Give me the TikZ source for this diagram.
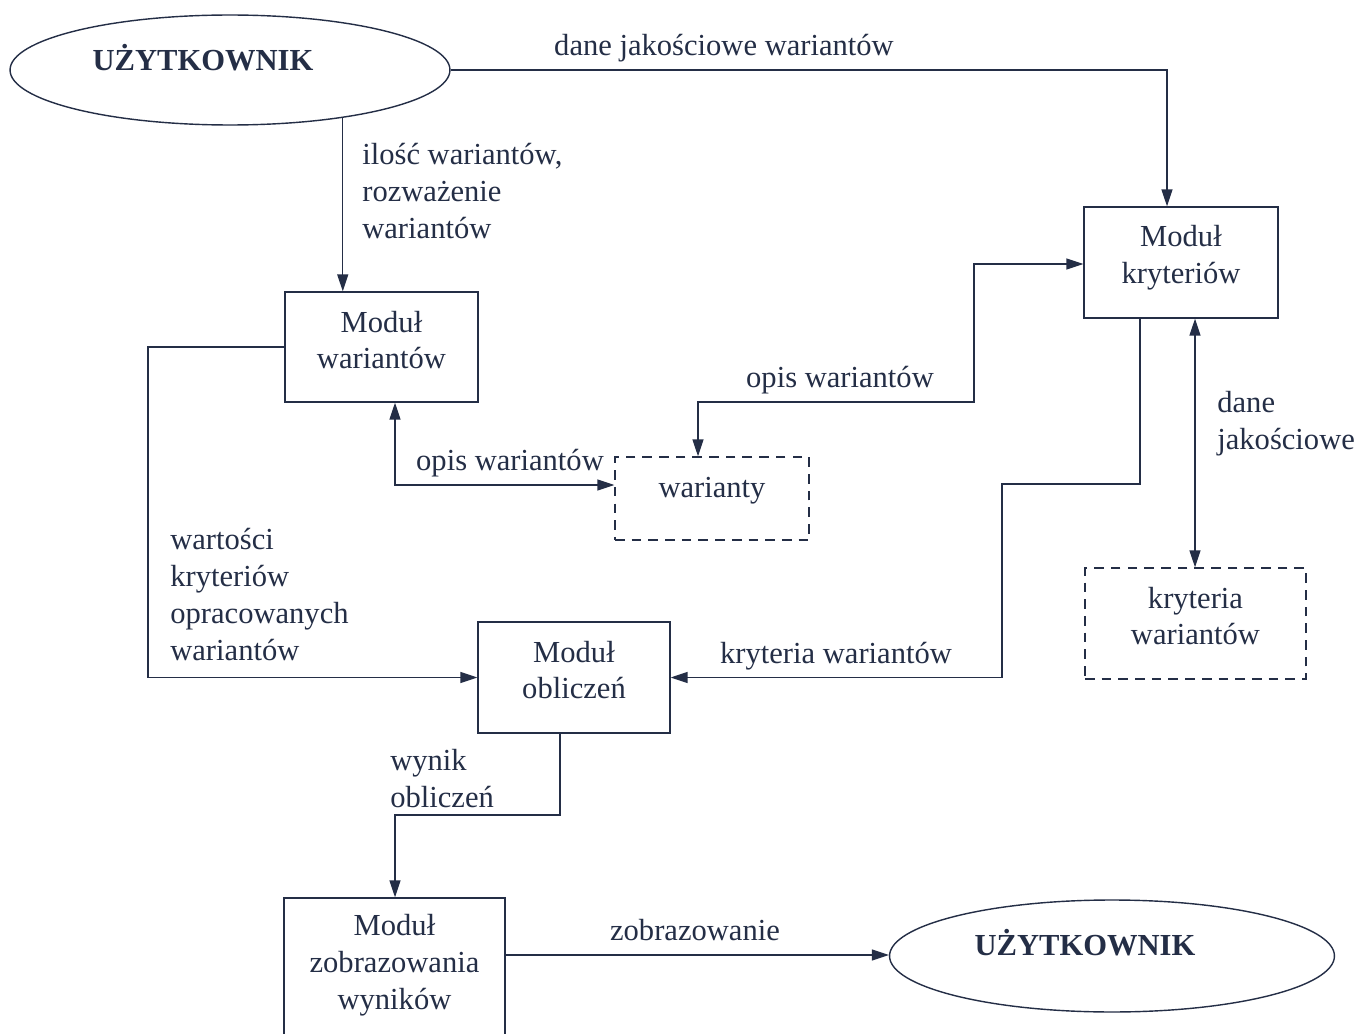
\documentclass[tikz,border=0pt]{standalone}
\usepackage{fontspec}
\setmainfont{Liberation Serif}
\usetikzlibrary{arrows.meta,shapes.geometric}
\definecolor{ink}{RGB}{36,46,70}
\begin{document}
\begin{tikzpicture}[x=0.02cm,y=-0.02cm,
  every node/.style={text=ink,font=\fontsize{17.4}{21}\selectfont},
  line/.style={draw=ink,line width=0.8pt},
  arr/.style={line,-{Triangle[length=0.34cm,width=0.22cm]}},
  arrboth/.style={line,{Triangle[length=0.34cm,width=0.22cm]}-{Triangle[length=0.34cm,width=0.22cm]}},
  modbox/.style={draw=ink,line width=0.8pt,rectangle,inner sep=0pt},
  databox/.style={modbox,dash pattern=on 5.5pt off 4pt},
  boxtext/.style={align=center,inner sep=0pt},
  user/.style={draw=ink,line width=0.8pt,ellipse,inner sep=0pt,minimum width=8.8cm,minimum height=2.2cm},
  lbl/.style={align=left,inner sep=0pt,anchor=north west},
  uname/.style={font=\fontsize{17.4}{21}\selectfont\bfseries,inner sep=0pt}]

\useasboundingbox[fill=white] (0,0) rectangle (1357,1034);

% users
\node[user] (u1) at (230,70) {};
\node[uname] (u1t) at (203,58) {UŻYTKOWNIK};
\node[user,minimum width=8.9cm,minimum height=2.24cm] (u2) at (1112,956) {};
\node[uname] (u2t) at (1085,943) {UŻYTKOWNIK};

% modules
\node[modbox,minimum width=3.86cm,minimum height=2.2cm] (mw) at (381.5,347) {};
\node[boxtext] (mwt) at (381.5,340) {Moduł\\wariantów};
\node[modbox,minimum width=3.88cm,minimum height=2.22cm] (mk) at (1181,262.5) {};
\node[boxtext] (mkt) at (1181,258) {Moduł\\kryteriów};
\node[modbox,minimum width=3.84cm,minimum height=2.22cm] (mo) at (574,677.5) {};
\node[boxtext] (mot) at (574,670) {Moduł\\obliczeń};
\node[modbox,minimum width=4.42cm,minimum height=2.94cm] (mz) at (394.5,971.5) {};
\node[boxtext] (mzt) at (394.5,965) {Moduł\\zobrazowania\\wyników};

% data stores
\node[databox,minimum width=3.88cm,minimum height=1.66cm] (dw) at (712,498.5) {};
\node[boxtext] (dwt) at (712,491) {warianty};
\node[databox,minimum width=4.42cm,minimum height=2.22cm] (dk) at (1195.5,623.5) {};
\node[boxtext] (dkt) at (1195.5,616) {kryteria\\wariantów};

% connectors
\draw[arr] (u1.east) -- (1167,0 |- u1.east) -- (1167,0 |- mk.north);
\draw[arr] (u1.-23.5) -- (u1.-23.5 |- mw.north);
\draw[arr] (mw.west) -- (148,0 |- mw.west) -- (148,0 |- mo.west) -- (mo.west);
\draw[arrboth] (395,0 |- mw.south) -- (395,485) -- (dw.west |- 395,485);
\draw[arrboth] (698,0 |- dw.north) -- (698,402) -- (974,402) -- (974,264) -- (mk.west |- 974,264);
\draw[arr] (1140,0 |- mk.south) -- (1140,484) -- (1002,484) -- (1002,0 |- mo.east) -- (mo.east);
\draw[arrboth] (1195,0 |- mk.south) -- (1195,0 |- dk.north);
\draw[arr] (560,0 |- mo.south) -- (560,815) -- (395,815) -- (395,0 |- mz.north);
\draw[arr] (mz.east |- 0,955) -- (u2.west |- 0,955);

% labels
\node (l1) at (724,48) {dane jakościowe wariantów};
\node[lbl] (l2) at (362,143) {ilość wariantów,\\rozważenie\\wariantów};
\node[lbl] (l3) at (170,528) {wartości\\kryteriów\\opracowanych\\wariantów};
\node (l4) at (510,463) {opis wariantów};
\node (l5) at (840,380) {opis wariantów};
\node (l6) at (836,656) {kryteria wariantów};
\node[lbl] (l7) at (1217,391) {dane\\jakościowe};
\node[lbl] (l8) at (390,749) {wynik\\obliczeń};
\node (l9) at (695,930) {zobrazowanie};
\end{tikzpicture}
\end{document}
